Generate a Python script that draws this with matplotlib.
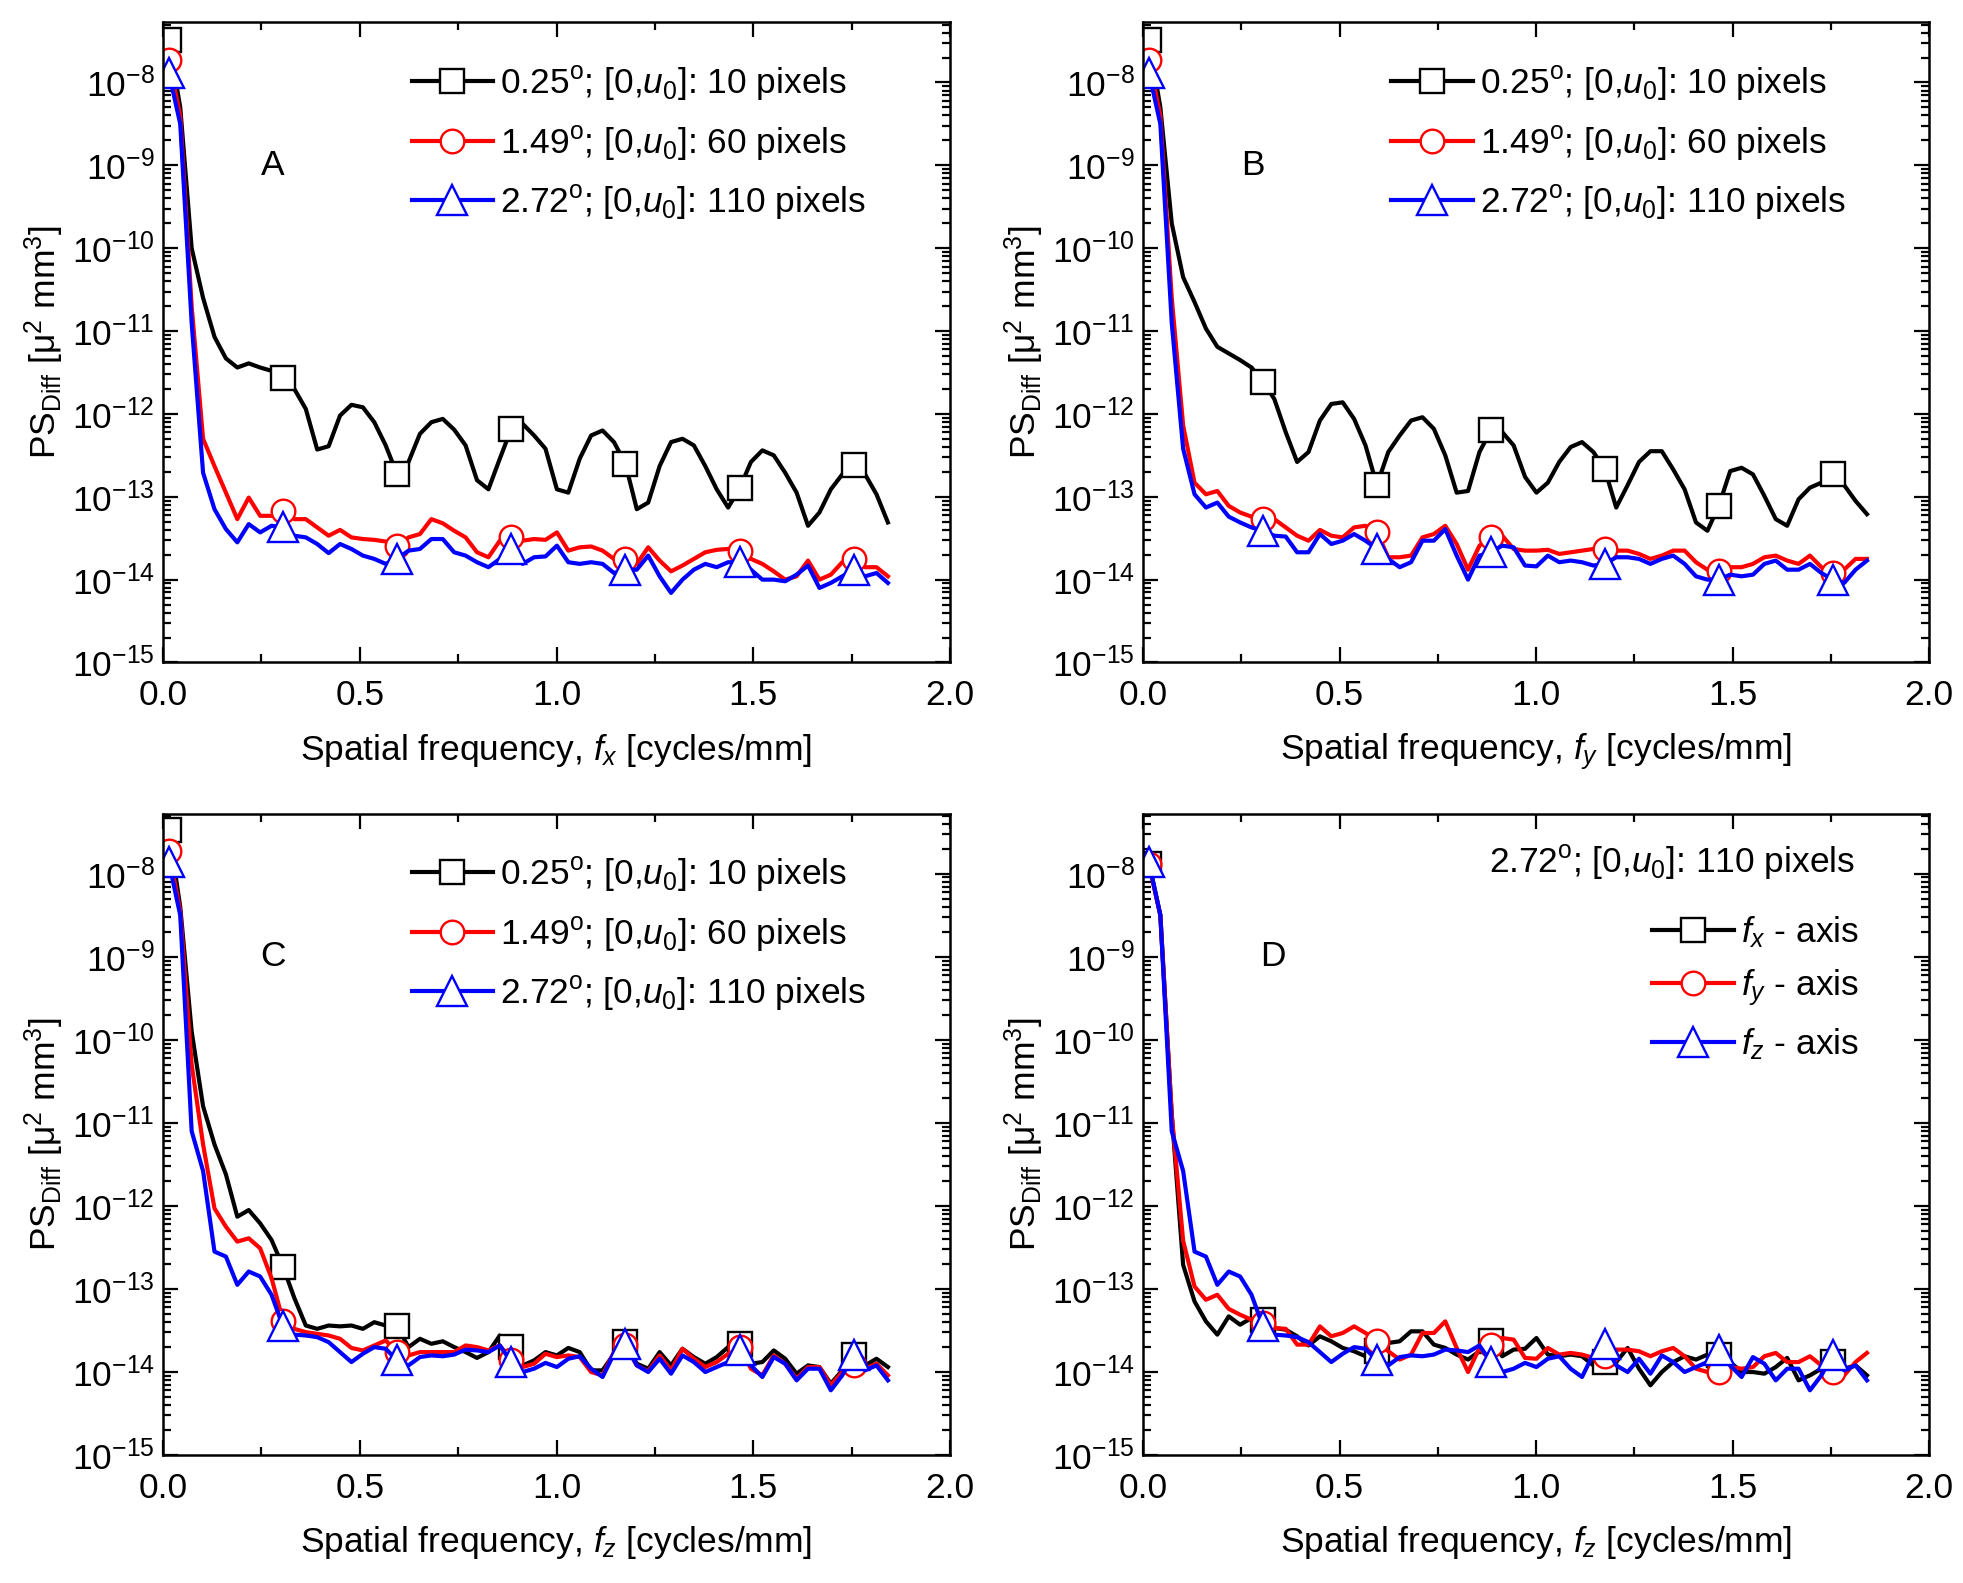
import numpy as np
import matplotlib
matplotlib.use('Agg')
import matplotlib.pyplot as plt
from matplotlib.ticker import MultipleLocator, LogLocator, LogFormatterMathtext, NullFormatter

plt.rcParams['font.family'] = ['Liberation Sans', 'DejaVu Sans']
plt.rcParams['mathtext.fontset'] = 'custom'
plt.rcParams['mathtext.rm'] = 'Liberation Sans'
plt.rcParams['mathtext.it'] = 'Liberation Sans:italic'
plt.rcParams['mathtext.bf'] = 'Liberation Sans:bold'
plt.rcParams['font.size'] = 25

# spatial frequency samples [cycles/mm]
freq = [0.015, 0.044, 0.073, 0.102, 0.131, 0.160, 0.189, 0.218, 0.247, 0.276,
        0.305, 0.334, 0.363, 0.392, 0.421, 0.450, 0.479, 0.508, 0.537, 0.566,
        0.595, 0.624, 0.653, 0.682, 0.711, 0.740, 0.769, 0.798, 0.827, 0.856,
        0.885, 0.914, 0.943, 0.972, 1.001, 1.030, 1.059, 1.088, 1.117, 1.146,
        1.175, 1.204, 1.233, 1.262, 1.291, 1.320, 1.349, 1.378, 1.407, 1.436,
        1.465, 1.494, 1.523, 1.552, 1.581, 1.610, 1.639, 1.668, 1.697, 1.726,
        1.755, 1.784, 1.813, 1.842]

# log10 of PS_Diff, panel A (f_x)
a_025 = [-7.49, -8.3, -10.0, -10.6, -11.07, -11.33, -11.44, -11.39, -11.44, -11.48,
         -11.57, -11.70, -11.94, -12.43, -12.39, -12.02, -11.89, -11.92, -12.10, -12.38,
         -12.73, -12.58, -12.24, -12.10, -12.06, -12.19, -12.38, -12.80, -12.91, -12.54,
         -12.18, -12.12, -12.26, -12.42, -12.91, -12.95, -12.54, -12.26, -12.20, -12.34,
         -12.60, -13.15, -13.07, -12.63, -12.34, -12.30, -12.38, -12.63, -12.91, -13.13,
         -12.90, -12.58, -12.44, -12.50, -12.71, -12.95, -13.35, -13.19, -12.91, -12.73,
         -12.62, -12.73, -12.97, -13.31]
a_149 = [-7.73, -8.4, -10.7, -12.30, -12.63, -12.95, -13.27, -13.01, -13.23, -13.23,
         -13.17, -13.27, -13.27, -13.37, -13.47, -13.40, -13.49, -13.51, -13.52, -13.54,
         -13.60, -13.49, -13.45, -13.27, -13.32, -13.41, -13.49, -13.67, -13.73, -13.53,
         -13.49, -13.53, -13.51, -13.52, -13.43, -13.65, -13.61, -13.60, -13.65, -13.75,
         -13.75, -13.81, -13.61, -13.77, -13.90, -13.83, -13.75, -13.67, -13.64, -13.63,
         -13.65, -13.75, -13.81, -13.90, -14.00, -13.96, -13.77, -14.00, -13.94, -13.79,
         -13.75, -13.85, -13.85, -13.96]
a_272 = [-7.88, -8.5, -10.9, -12.71, -13.15, -13.39, -13.55, -13.33, -13.43, -13.35,
         -13.37, -13.47, -13.49, -13.57, -13.68, -13.57, -13.63, -13.71, -13.75, -13.81,
         -13.75, -13.65, -13.63, -13.51, -13.51, -13.67, -13.71, -13.79, -13.85, -13.75,
         -13.63, -13.81, -13.73, -13.72, -13.59, -13.79, -13.81, -13.79, -13.81, -13.92,
         -13.88, -13.88, -13.71, -13.96, -14.16, -14.00, -13.88, -13.81, -13.85, -13.79,
         -13.79, -13.88, -14.00, -14.00, -14.02, -13.94, -13.83, -14.10, -14.04, -13.96,
         -13.88, -13.96, -13.92, -14.04]

# panel B (f_y)
b_025 = [-7.49, -8.3, -9.7, -10.35, -10.65, -10.97, -11.19, -11.27, -11.35, -11.44,
         -11.61, -11.82, -12.22, -12.58, -12.46, -12.08, -11.88, -11.86, -12.06, -12.38,
         -12.86, -12.46, -12.26, -12.08, -12.04, -12.18, -12.50, -12.95, -12.93, -12.46,
         -12.20, -12.22, -12.38, -12.76, -12.95, -12.83, -12.58, -12.40, -12.34, -12.46,
         -12.67, -13.13, -12.86, -12.58, -12.45, -12.45, -12.67, -12.91, -13.31, -13.41,
         -13.11, -12.69, -12.65, -12.73, -12.99, -13.27, -13.35, -13.03, -12.89, -12.83,
         -12.73, -12.86, -13.05, -13.21]
b_149 = [-7.73, -8.4, -10.6, -12.14, -12.83, -12.97, -12.93, -13.11, -13.19, -13.24,
         -13.27, -13.27, -13.37, -13.47, -13.53, -13.40, -13.47, -13.49, -13.37, -13.35,
         -13.43, -13.73, -13.73, -13.71, -13.49, -13.45, -13.35, -13.57, -13.88, -13.59,
         -13.49, -13.47, -13.63, -13.65, -13.65, -13.64, -13.69, -13.67, -13.65, -13.63,
         -13.63, -13.65, -13.65, -13.69, -13.75, -13.71, -13.65, -13.65, -13.79, -13.88,
         -13.90, -13.85, -13.85, -13.81, -13.73, -13.71, -13.77, -13.81, -13.71, -13.85,
         -13.92, -13.88, -13.75, -13.75]
b_272 = [-7.88, -8.5, -10.9, -12.42, -12.97, -13.13, -13.07, -13.24, -13.31, -13.37,
         -13.41, -13.47, -13.48, -13.67, -13.67, -13.45, -13.57, -13.53, -13.45, -13.53,
         -13.63, -13.75, -13.85, -13.79, -13.53, -13.53, -13.39, -13.71, -14.00, -13.71,
         -13.67, -13.59, -13.61, -13.83, -13.84, -13.71, -13.79, -13.77, -13.79, -13.83,
         -13.81, -13.73, -13.73, -13.75, -13.81, -13.75, -13.71, -13.81, -13.96, -14.00,
         -14.00, -13.94, -13.96, -13.94, -13.81, -13.77, -13.88, -13.88, -13.81, -13.92,
         -14.00, -14.04, -13.88, -13.77]

# panel C (f_z)
c_025 = [-7.48, -8.4, -9.9, -10.8, -11.26, -11.62, -12.13, -12.05, -12.21, -12.41,
         -12.73, -13.11, -13.44, -13.48, -13.44, -13.45, -13.44, -13.48, -13.40, -13.44,
         -13.45, -13.70, -13.60, -13.66, -13.63, -13.70, -13.76, -13.83, -13.76, -13.56,
         -13.70, -13.92, -13.86, -13.76, -13.80, -13.71, -13.76, -13.98, -13.98, -13.78,
         -13.64, -13.90, -13.96, -13.76, -13.92, -13.72, -13.82, -13.90, -13.82, -13.70,
         -13.66, -13.90, -13.88, -13.74, -13.84, -14.02, -13.92, -13.94, -14.14, -13.98,
         -13.80, -13.92, -13.84, -13.94]
c_149 = [-7.73, -8.45, -10.3, -11.26, -12.03, -12.25, -12.43, -12.39, -12.51, -12.87,
         -13.38, -13.48, -13.52, -13.54, -13.56, -13.60, -13.71, -13.74, -13.68, -13.62,
         -13.76, -13.80, -13.76, -13.76, -13.76, -13.76, -13.68, -13.70, -13.74, -13.68,
         -13.86, -13.94, -13.90, -13.78, -13.82, -13.80, -13.82, -14.00, -14.04, -13.76,
         -13.68, -13.92, -13.99, -13.80, -13.98, -13.72, -13.84, -13.94, -13.88, -13.78,
         -13.70, -13.96, -14.04, -13.80, -13.90, -14.08, -13.94, -13.94, -14.16, -14.00,
         -13.92, -13.96, -13.90, -14.04]
c_272 = [-7.86, -8.5, -11.10, -11.58, -12.55, -12.61, -12.95, -12.79, -12.85, -13.07,
         -13.45, -13.55, -13.56, -13.58, -13.64, -13.76, -13.88, -13.78, -13.70, -13.72,
         -13.86, -13.92, -13.82, -13.80, -13.81, -13.79, -13.73, -13.74, -13.76, -13.68,
         -13.88, -14.00, -13.96, -13.89, -13.94, -13.84, -13.81, -13.96, -14.06, -13.78,
         -13.66, -13.92, -14.00, -13.84, -14.02, -13.80, -13.88, -14.00, -13.94, -13.88,
         -13.74, -13.92, -14.06, -13.82, -13.90, -14.10, -13.96, -13.96, -14.22, -14.04,
         -13.80, -13.98, -13.92, -14.10]

angle_labels = [r'0.25$^{\rm o}$; [0,$u_{\rm 0}$]: 10 pixels',
                r'1.49$^{\rm o}$; [0,$u_{\rm 0}$]: 60 pixels',
                r'2.72$^{\rm o}$; [0,$u_{\rm 0}$]: 110 pixels']
axis_labels = [r'$f_x$ - axis', r'$f_y$ - axis', r'$f_z$ - axis']
colors = ['black', 'red', 'blue']
markers = ['s', 'o', '^']
msizes = [17, 17, 21]

fig = plt.figure(figsize=(19.63, 15.83), dpi=100)
axA = fig.add_axes([0.083, 0.5815, 0.401, 0.4043])
axB = fig.add_axes([0.5823, 0.5815, 0.4004, 0.4043])
axC = fig.add_axes([0.083, 0.0808, 0.401, 0.4053])
axD = fig.add_axes([0.5823, 0.0808, 0.4004, 0.4053])


def draw(ax, series, labels):
    for s, lab, c, m, ms in zip(series, labels, colors, markers, msizes):
        ax.plot(freq, 10.0 ** np.array(s), color=c, lw=3.0, marker=m, ms=ms,
                mfc='white', mec=c, mew=1.7, markevery=10, label=lab)


def style(ax, xsym, letter):
    ax.set_yscale('log')
    ax.set_xlim(0, 2.0)
    ax.set_ylim(1e-15, 5.3e-8)
    ax.xaxis.set_major_locator(MultipleLocator(0.5))
    ax.xaxis.set_minor_locator(MultipleLocator(0.25))
    ax.xaxis.set_major_formatter(plt.FuncFormatter(lambda v, p: '%.1f' % v))
    ax.yaxis.set_major_locator(LogLocator(base=10, numticks=20))
    ax.yaxis.set_minor_locator(LogLocator(base=10, subs=np.arange(2, 10), numticks=20))
    ax.yaxis.set_major_formatter(LogFormatterMathtext())
    ax.yaxis.set_minor_formatter(NullFormatter())
    ax.tick_params(which='both', direction='in', top=True, right=True, width=1.6)
    ax.tick_params(which='major', length=11, labelsize=25.5, pad=12)
    ax.tick_params(which='minor', length=6)
    ax.tick_params(axis='y', which='major', pad=6)
    for sp in ax.spines.values():
        sp.set_linewidth(1.8)
    ax.set_xlabel(r'Spatial frequency, $f_%s$ [cycles/mm]' % xsym, fontsize=25.5, labelpad=14)
    ax.set_ylabel(r'PS$_{\rm Diff}$ [μ$^2$ mm$^3$]', fontsize=25.5, labelpad=4)
    ax.text(0.28 if letter != 'D' else 0.33, 1e-9, letter, ha='center', va='center', fontsize=25.5)


for ax, data, xs, letter in [(axA, [a_025, a_149, a_272], 'x', 'A'),
                             (axB, [b_025, b_149, b_272], 'y', 'B'),
                             (axC, [c_025, c_149, c_272], 'z', 'C')]:
    draw(ax, data, angle_labels)
    style(ax, xs, letter)
    ax.legend(loc='upper left', bbox_to_anchor=(0.316, 0.935), frameon=False,
              borderaxespad=0, borderpad=0, handlelength=2.3, handletextpad=0.2,
              labelspacing=0.58, numpoints=1, fontsize=25.5)

draw(axD, [a_272, b_272, c_272], axis_labels)
style(axD, 'z', 'D')
axD.text(0.906, 0.924, r'2.72$^{\rm o}$; [0,$u_0$]: 110 pixels', transform=axD.transAxes,
         ha='right', va='center', fontsize=25.5)
axD.legend(loc='upper left', bbox_to_anchor=(0.648, 0.843), frameon=False,
           borderaxespad=0, borderpad=0, handlelength=2.3, handletextpad=0.2,
           labelspacing=0.5, numpoints=1, fontsize=25.5)

fig.savefig('out.png', dpi=100)
